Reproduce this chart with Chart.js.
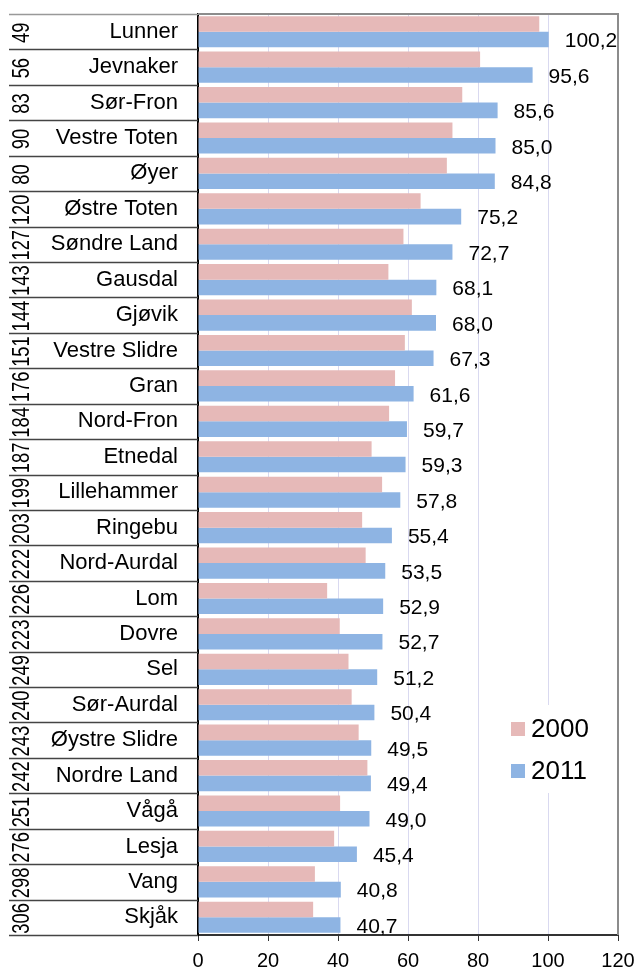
<!DOCTYPE html>
<html>
<head>
<meta charset="utf-8">
<script src="https://cdn.jsdelivr.net/npm/chart.js@4"></script>
<style>
  body { margin: 0; background: #fff; }
  canvas { display: block; }
</style>
</head>
<body>
<canvas id="chart" width="637" height="971"></canvas>
<script>
// --- Data ---
const names = ['Lunner', 'Jevnaker', 'Sør-Fron', 'Vestre Toten', 'Øyer', 'Østre Toten', 'Søndre Land',
    'Gausdal', 'Gjøvik', 'Vestre Slidre', 'Gran', 'Nord-Fron', 'Etnedal', 'Lillehammer', 'Ringebu',
    'Nord-Aurdal', 'Lom', 'Dovre', 'Sel', 'Sør-Aurdal', 'Øystre Slidre', 'Nordre Land', 'Vågå',
    'Lesja', 'Vang', 'Skjåk'];
const ranks = [49, 56, 83, 90, 80, 120, 127, 143, 144, 151, 176, 184, 187, 199, 203, 222, 226, 223,
    249, 240, 243, 242, 251, 276, 298, 306];
const values2000 = [97.5, 80.6, 75.5, 72.7, 71.1, 63.6, 58.7, 54.4, 61.1, 59.1, 56.3, 54.6, 49.6,
    52.6, 46.9, 47.9, 36.9, 40.5, 43.0, 43.9, 45.9, 48.4, 40.6, 38.9, 33.4, 32.9];
const values2011 = [100.2, 95.6, 85.6, 85.0, 84.8, 75.2, 72.7, 68.1, 68.0, 67.3, 61.6, 59.7, 59.3,
    57.8, 55.4, 53.5, 52.9, 52.7, 51.2, 50.4, 49.5, 49.4, 49.0, 45.4, 40.8, 40.7];
const seriesNames = ['2000', '2011'];
const xTicks = [0, 20, 40, 60, 80, 100, 120];

const FONT = "'Liberation Sans', Arial, sans-serif";

// formats 100.2 -> "100,2"
function fmt(v) {
    return v.toFixed(1).replace('.', ',');
}

// --- Plugins ---

// rows of the left "table": separator lines + rotated rank numbers
const leftTable = {
    id: 'leftTable',
    afterDraw(chart) {
        const ctx = chart.ctx;
        const y = chart.scales.y;
        const left = chart.chartArea.left;
        ctx.save();
        for (let i = 0; i <= names.length; i++) {
            const py = Math.round(y.getPixelForValue(i - 0.5)) + 0.5;
            ctx.strokeStyle = i === 0 ? '#999' : '#444';
            ctx.lineWidth = 1.5;
            ctx.beginPath();
            ctx.moveTo(9, py);
            ctx.lineTo(left, py);
            ctx.stroke();
        }
        ctx.fillStyle = '#000';
        ctx.font = '23px ' + FONT;
        ctx.textAlign = 'center';
        ctx.textBaseline = 'middle';
        ranks.forEach((r, i) => {
            ctx.save();
            ctx.translate(23, y.getPixelForValue(i) + 1);
            ctx.rotate(-Math.PI / 2);
            ctx.scale(0.8, 1);
            ctx.fillText(String(r), 0, 0);
            ctx.restore();
        });
        ctx.restore();
    }
};

// value labels after the 2011 bars, plot frame and legend box
const extras = {
    id: 'extras',
    afterDatasetsDraw(chart) {
        const ctx = chart.ctx;
        const area = chart.chartArea;
        const meta = chart.getDatasetMeta(1);
        ctx.save();
        ctx.beginPath();
        ctx.rect(area.left, area.top, area.right - area.left, area.bottom - area.top);
        ctx.clip();
        ctx.fillStyle = '#000';
        ctx.font = '21px ' + FONT;
        ctx.textAlign = 'left';
        ctx.textBaseline = 'middle';
        meta.data.forEach((bar, i) => {
            ctx.fillText(fmt(values2011[i]), bar.x + 16, bar.y + 2);
        });
        ctx.restore();

        // frame: top and right in grey
        ctx.save();
        ctx.strokeStyle = '#8c8c8c';
        ctx.lineWidth = 2;
        ctx.beginPath();
        ctx.moveTo(area.left, area.top);
        ctx.lineTo(area.right, area.top);
        ctx.lineTo(area.right, area.bottom);
        ctx.stroke();
        ctx.restore();

        // legend
        ctx.save();
        ctx.fillStyle = '#fff';
        ctx.fillRect(503, 705, 108, 88);
        ctx.font = '26px ' + FONT;
        ctx.textBaseline = 'middle';
        ctx.textAlign = 'left';
        chart.data.datasets.forEach((ds, i) => {
            const top = 722 + i * 42;
            ctx.fillStyle = ds.backgroundColor;
            ctx.fillRect(511, top, 14, 14);
            ctx.fillStyle = '#000';
            ctx.fillText(ds.label, 531, top + 8);
        });
        ctx.restore();
    }
};

// --- Chart ---
const ctx = document.getElementById('chart').getContext('2d');
const chart = new Chart(ctx, {
    type: 'bar',
    data: {
        labels: names,
        datasets: [
            { label: seriesNames[0], data: values2000, backgroundColor: '#e6b9b8' },
            { label: seriesNames[1], data: values2011, backgroundColor: '#8eb4e3' }
        ]
    },
    options: {
        indexAxis: 'y',
        responsive: false,
        animation: false,
        categoryPercentage: 0.88,
        barPercentage: 1,
        layout: { padding: { left: 10, top: 14, right: 19, bottom: 0 } },
        scales: {
            x: {
                min: 0,
                max: 120,
                afterBuildTicks: s => { s.ticks = xTicks.map(v => ({ value: v })); },
                ticks: { color: '#000', font: { family: FONT, size: 20 }, padding: 8 },
                grid: { color: '#d9d9f0', tickColor: '#333', tickLength: 6 },
                border: { color: '#333', width: 2 },
                afterFit: s => { s.height = 36; s.paddingLeft = 0; s.paddingRight = 0; }
            },
            y: {
                ticks: { color: '#000', font: { family: FONT, size: 22 }, padding: 20, autoSkip: false },
                grid: { display: false, drawTicks: false },
                border: { display: true, color: '#000', width: 2 },
                afterFit: s => { s.width = 188; s.paddingTop = 0; s.paddingBottom = 0; }
            }
        },
        plugins: {
            legend: { display: false },
            tooltip: { enabled: false }
        }
    },
    plugins: [leftTable, extras]
});
</script>
</body>
</html>
